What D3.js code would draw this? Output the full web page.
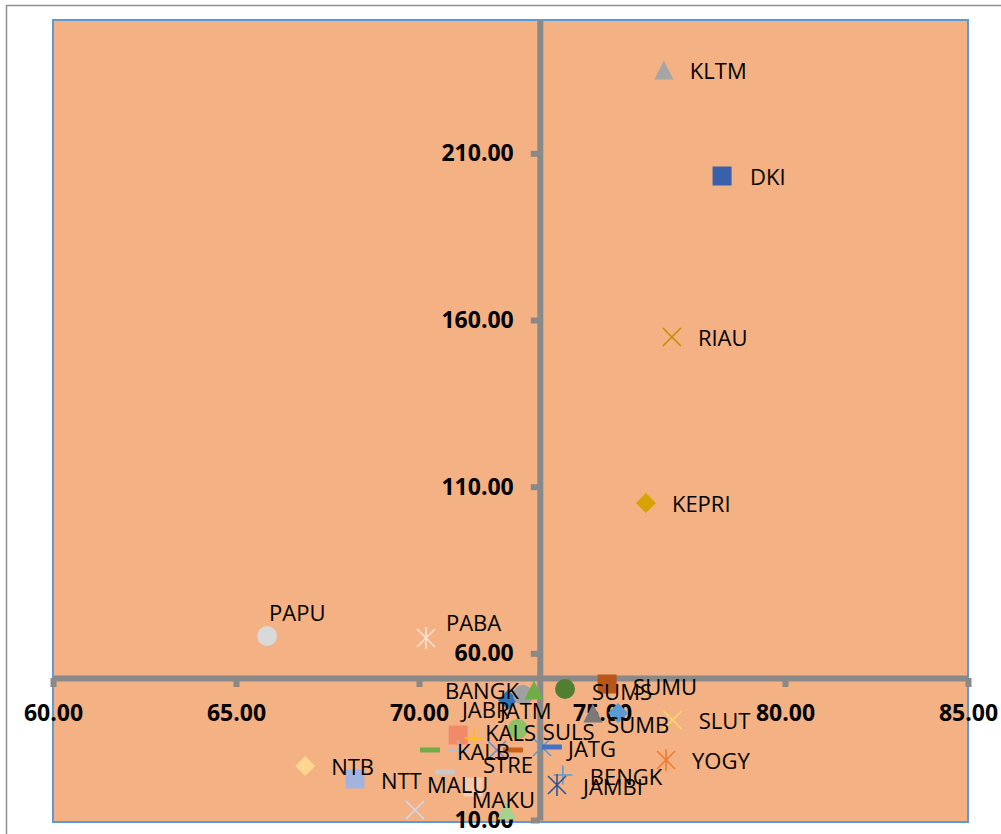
<!DOCTYPE html>
<html>
<head>
<meta charset="utf-8">
<script src="https://cdn.jsdelivr.net/npm/d3@7"></script>
<style>
  body { margin: 0; background: #fff; }
  text { font-family: "Open Sans", "DejaVu Sans", sans-serif; }
</style>
</head>
<body>
<script>
// provinces, "" = point without a visible label
const provinces = ["KLTM", "DKI", "RIAU", "KEPRI", "PAPU", "PABA", "SUMU", "SUMS",
  "BANGK", "JATM", "JABR", "", "SUMB", "SLUT", "SULS", "KALS", "", "", "KALB", "",
  "STRE", "JATG", "", "YOGY", "MALU", "NTB", "", "BENGK", "JAMBI", "NTT", "", "MAKU"];
const xValues = [76.69, 78.28, 76.91, 76.20, 65.85, 70.19, 75.14, 73.99,
  72.43, 72.84, 73.14, 74.75, 75.44, 76.93, 72.70, 71.07, 71.50, 71.06, 70.30, 72.13,
  72.57, 73.36, 73.63, 76.75, 70.71, 66.89, 71.48, 73.93, 73.77, 68.25, 69.89, 72.40];
const yValues = [235.0, 203.2, 154.9, 105.1, 65.2, 64.6, 50.8, 49.3,
  46.0, 47.5, 49.0, 42.1, 42.1, 40.0, 37.3, 35.5, 34.6, 31.0, 31.0, 31.0,
  31.0, 31.9, 31.9, 28.0, 24.4, 26.2, 19.9, 23.5, 20.5, 22.3, 13.0, 13.0];

const xTicks = [60, 65, 70, 75, 80, 85];
const yTicks = [10, 60, 110, 160, 210];
const xDomain = [60, 85];
const yDomain = [10, 250];
const xCross = 73.3;   // where the vertical axis crosses
const yCross = 52.6;   // where the horizontal axis crosses

// marker type and colour per point (same order as provinces)
const markerType = ["triangle", "square", "x", "diamond", "circle", "star", "square", "circle",
  "diamond", "circle", "triangle", "triangle", "diamond", "x", "circle", "square", "plus", "plus", "dash", "x",
  "dash", "x", "dash", "star", "dash", "diamond", "square", "plus", "star", "square", "x", "triangle"];
const markerColor = ["#A5A5A5", "#3A60AC", "#BF9000", "#D6A300", "#D9D9D9", "#FBE3D3", "#B7561A", "#507E32",
  "#2E75B6", "#A0A0A0", "#70AD47", "#7A7A7A", "#5B9BD5", "#FFD966", "#8CC168", "#F08A68", "#FFC000", "#9DC3E6", "#70AD47", "#6A8ED4",
  "#C8601A", "#5B9BD5", "#4472C4", "#ED7D31", "#C9C9C9", "#FFD68F", "#F8CBAD", "#5B9BD5", "#2F5597", "#A3B3DE", "#CDD9F0", "#A9D18E"];

// label nudges (px) where a label is not simply to the right of its marker
const labelNudge = {
  DKI: [28, 1], PAPU: [2, -23], PABA: [20, -15], SUMU: [26, 3], SUMS: [27, 3],
  BANGK: [-63, -9], JABR: [-72, 20], JATM: [-23, 16], SUMB: [-11, 12],
  SULS: [25, 3], KALS: [27, -2], KALB: [27, 2], STRE: [-30, 15], JATG: [26, 2],
  MALU: [-18, 13], BENGK: [27, 2], JAMBI: [26, 2], NTT: [26, 2], MAKU: [-35, -10]
};

const W = 1001, H = 834;
const plot = { left: 53, top: 20, right: 968, bottom: 820 };

const svg = d3.select("body").append("svg")
  .attr("width", W).attr("height", H);

// chart area border
svg.append("rect")
  .attr("x", 6.5).attr("y", 5.5).attr("width", 1200).attr("height", 1200)
  .attr("fill", "#fff").attr("stroke", "#8f8f8f").attr("stroke-width", 1.5);

const x = d3.scaleLinear().domain(xDomain).range([plot.left, plot.right]);
const y = d3.scaleLinear().domain(yDomain).range([plot.bottom, plot.top]);

// plot area
svg.append("rect")
  .attr("x", plot.left).attr("y", plot.top)
  .attr("width", plot.right - plot.left).attr("height", plot.bottom - plot.top + 2)
  .attr("fill", "#F4B183").attr("stroke", "#5B9BD5").attr("stroke-width", 2);

const fmt = d3.format(".2f");
const axisGrey = "#898989";

let xAxis = svg.append("g")
  .attr("transform", "translate(0," + y(yCross) + ")")
  .call(d3.axisBottom(x).tickValues(xTicks).tickFormat(fmt)
    .tickSize(9).tickSizeOuter(0).tickPadding(17));

let yAxis = svg.append("g")
  .attr("transform", "translate(" + x(xCross) + ",0)")
  .call(d3.axisLeft(y).tickValues(yTicks).tickFormat(fmt)
    .tickSize(9).tickSizeOuter(0).tickPadding(17));

[xAxis, yAxis].forEach(function (g) {
  g.select(".domain").attr("stroke", axisGrey).attr("stroke-width", 6);
  g.selectAll(".tick line").attr("stroke", axisGrey).attr("stroke-width", 6);
  g.selectAll(".tick text")
    .attr("fill", "#000").attr("font-size", 23).attr("font-weight", "bold")
    .style("font-family", "'Open Sans', sans-serif");
});
xAxis.selectAll(".tick text").attr("dy", "0.36em").attr("y", 35);

function markerPath(type) {
  switch (type) {
    case "square": return "M-9.5,-9.5h19v19h-19Z";
    case "diamond": return "M0,-10L10,0L0,10L-10,0Z";
    case "triangle": return "M0,-9.5L9.5,9.5L-9.5,9.5Z";
    case "circle": return d3.symbol(d3.symbolCircle, Math.PI * 100)();
    case "x": return "M-9,-9L9,9M9,-9L-9,9";
    case "star": return "M-9,-9L9,9M9,-9L-9,9M0,-11V11";
    case "plus": return "M-9.5,0H9.5M0,-9.5V9.5";
    case "dash": return "M-10,-2.5h20v5h-20Z";
  }
}
const stroked = { x: true, star: true, plus: true };

const points = provinces.map(function (p, i) {
  return { name: p, x: xValues[i], y: yValues[i], type: markerType[i], color: markerColor[i] };
});

svg.append("g").selectAll("path")
  .data(points).enter().append("path")
  .attr("transform", function (d) { return "translate(" + x(d.x) + "," + y(d.y) + ")"; })
  .attr("d", function (d) { return markerPath(d.type); })
  .attr("fill", function (d) { return stroked[d.type] ? "none" : d.color; })
  .attr("stroke", function (d) { return stroked[d.type] ? d.color : "none"; })
  .attr("stroke-width", 1.6);

svg.append("g").selectAll("text")
  .data(points.filter(function (d) { return d.name !== ""; }))
  .enter().append("text")
  .text(function (d) { return d.name; })
  .attr("x", function (d) { return x(d.x) + (labelNudge[d.name] || [26, 1])[0]; })
  .attr("y", function (d) { return y(d.y) + (labelNudge[d.name] || [26, 1])[1]; })
  .attr("dy", "0.36em")
  .attr("font-size", 22)
  .attr("fill", "#000");
</script>
</body>
</html>
